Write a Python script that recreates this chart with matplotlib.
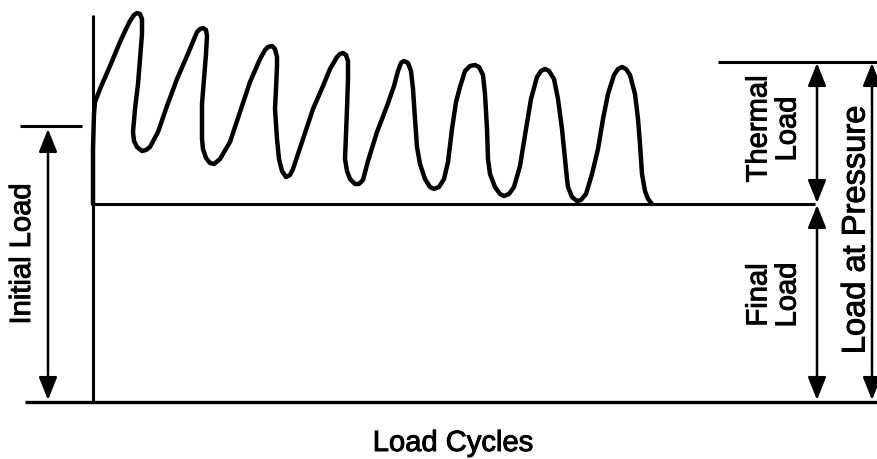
import matplotlib.pyplot as plt
import matplotlib.patheffects as pe

plt.rcParams['font.family'] = ['Liberation Sans', 'DejaVu Sans']

# load levels (arbitrary units, 0 = zero load)
final_load = 198
initial_load = 276
pressure_load = 340
axis_top = 387
n_cycles_end = 785

# traced load history over the thermal cycles
cycle_x = [0, 0, 1, 2, 7, 17, 27, 33, 37, 41,
           44, 47, 49, 49, 47, 45, 42, 40, 41, 44,
           49, 53, 57, 65, 74, 84, 94, 101, 104, 107,
           110, 113, 114, 113, 111, 109, 109, 110, 113, 117,
           121, 127, 137, 147, 157, 167, 172, 175, 179, 182,
           184, 184, 183, 182, 184, 186, 189, 193, 197, 200,
           210, 220, 230, 237, 244, 247, 250, 253, 255, 255,
           254, 252, 254, 257, 262, 266, 270, 275, 284, 294,
           301, 305, 308, 311, 315, 318, 320, 322, 324, 327,
           332, 337, 341, 346, 351, 355, 359, 363, 367, 372,
           377, 382, 386, 390, 392, 394, 395, 397, 402, 407,
           411, 416, 421, 427, 433, 438, 444, 448, 452, 456,
           461, 465, 469, 472, 474, 475, 479, 484, 488, 493,
           499, 505, 510, 515, 521, 525, 529, 533, 537, 542,
           545, 547, 549, 552, 555, 559]
cycle_load = [198, 253, 288, 300, 313, 336, 360, 373, 381, 387,
              389, 388, 383, 368, 343, 318, 293, 270, 261, 255,
              251, 252, 255, 270, 296, 323, 346, 363, 370, 373,
              374, 372, 366, 348, 323, 298, 263, 253, 244, 239,
              238, 243, 260, 290, 320, 343, 352, 355, 356, 353,
              345, 336, 313, 293, 263, 243, 231, 225, 227, 233,
              263, 293, 316, 333, 345, 348, 349, 347, 341, 323,
              293, 243, 231, 223, 218, 218, 222, 241, 270, 296,
              316, 331, 339, 341, 339, 331, 313, 283, 255, 238,
              223, 215, 213, 215, 223, 240, 273, 300, 315, 331,
              336, 337, 335, 327, 308, 273, 243, 228, 215, 208,
              206, 208, 215, 236, 273, 303, 325, 331, 333, 331,
              323, 303, 273, 243, 223, 215, 205, 201, 202, 208,
              228, 253, 283, 308, 327, 333, 335, 333, 327, 308,
              283, 258, 228, 211, 203, 198]

fig = plt.figure(figsize=(8.78, 4.6), dpi=100)
ax = fig.add_axes([0, 0, 1, 1])
ax.set_xlim(-93, 785)
ax.set_ylim(-57, 403)
ax.axis('off')

k = 'black'
# axes and reference levels
ax.plot([0, 0], [0, axis_top], color=k, lw=2.2, solid_capstyle='butt')
ax.plot([-68, n_cycles_end], [0, 0], color=k, lw=2.4, solid_capstyle='butt')
ax.plot([0, 722], [final_load, final_load], color=k, lw=2.2, solid_capstyle='butt')
ax.plot([-73, -11], [initial_load, initial_load], color=k, lw=2.2, solid_capstyle='butt')
ax.plot([625, 784], [pressure_load, pressure_load], color=k, lw=2.2, solid_capstyle='butt')

# load history
ax.plot(cycle_x, cycle_load, color=k, lw=3.2, solid_joinstyle='round', solid_capstyle='round')


def dim_arrow(x, y0, y1):
    ax.annotate('', xy=(x, y1), xytext=(x, y0),
                arrowprops=dict(arrowstyle='<|-|>,head_length=1.0,head_width=0.4',
                                mutation_scale=14, lw=1.8, color=k,
                                shrinkA=0, shrinkB=0))


dim_arrow(-45, 2, initial_load - 3)
dim_arrow(724, final_load + 1, pressure_load - 1)
dim_arrow(724, 2, final_load - 1)
dim_arrow(779, 2, pressure_load - 1)

fs = 21
bold_ink = [pe.withStroke(linewidth=0.7, foreground=k)]
labels = [
    (-71, 148, 'Initial Load', fs),
    (680, 273, 'Thermal\nLoad', fs),
    (680, 107, 'Final\nLoad', fs),
    (763, 172, 'Load at Pressure', 23.5),
]
for x, y, s, size in labels:
    ax.text(x, y, s, rotation=90, fontsize=size, ha='center', va='center',
            multialignment='center', linespacing=1.05, path_effects=bold_ink)
ax.text(360, -41, 'Load Cycles', fontsize=fs, ha='center', va='center', path_effects=bold_ink)

fig.savefig('out.png', dpi=100)
